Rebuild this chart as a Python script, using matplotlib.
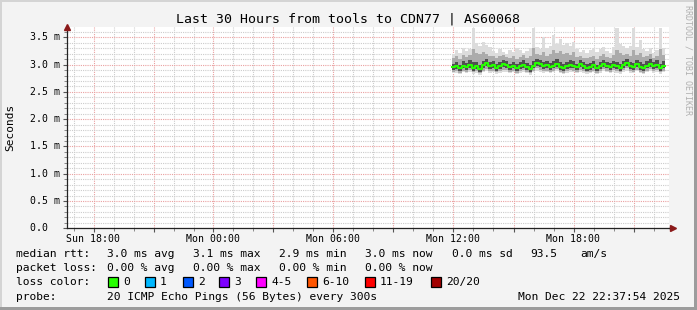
import numpy as np
import matplotlib.pyplot as plt
from matplotlib.patches import Rectangle
from matplotlib.ticker import MultipleLocator

# time axis in hours since Sun 00:00, samples every 10 minutes from Mon 11:55
t_start = 35 + 55 / 60
t_step = 1 / 6

median = [2.95, 2.97, 2.93, 2.98, 2.96, 3.00, 2.94, 2.97,
          2.92, 2.99, 3.03, 2.97, 2.99, 2.94, 2.97, 3.02,
          2.99, 2.95, 2.98, 2.93, 2.97, 3.00, 2.96, 2.92,
          2.98, 3.03, 3.01, 2.97, 2.99, 2.95, 2.98, 3.02,
          2.96, 2.93, 2.97, 3.00, 2.98, 2.95, 3.01, 2.97,
          2.94, 2.96, 2.99, 2.93, 2.97, 3.02, 2.98, 2.96,
          3.00, 2.97, 2.94, 2.99, 3.03, 2.97, 2.95, 3.01,
          2.96, 2.93, 2.98, 3.02, 2.97, 3.00, 2.94, 2.98]
inner_hi = [3.02, 3.05, 3.00, 3.06, 3.03, 3.08, 3.04, 3.05,
            3.00, 3.07, 3.10, 3.04, 3.07, 3.02, 3.05, 3.09,
            3.06, 3.02, 3.05, 3.01, 3.04, 3.08, 3.03, 3.00,
            3.06, 3.11, 3.08, 3.05, 3.07, 3.03, 3.06, 3.10,
            3.04, 3.01, 3.05, 3.08, 3.06, 3.02, 3.08, 3.04,
            3.02, 3.03, 3.06, 3.00, 3.05, 3.09, 3.05, 3.03,
            3.07, 3.05, 3.02, 3.07, 3.11, 3.05, 3.03, 3.08,
            3.04, 3.01, 3.06, 3.10, 3.05, 3.08, 3.02, 3.06]
inner_lo = [2.90, 2.92, 2.88, 2.93, 2.91, 2.94, 2.89, 2.92,
            2.87, 2.93, 2.97, 2.92, 2.93, 2.89, 2.92, 2.96,
            2.94, 2.90, 2.93, 2.88, 2.92, 2.94, 2.91, 2.87,
            2.93, 2.97, 2.95, 2.92, 2.93, 2.90, 2.93, 2.96,
            2.91, 2.88, 2.92, 2.94, 2.93, 2.90, 2.95, 2.92,
            2.89, 2.91, 2.93, 2.88, 2.92, 2.96, 2.93, 2.91,
            2.94, 2.92, 2.89, 2.94, 2.97, 2.92, 2.90, 2.95,
            2.91, 2.88, 2.93, 2.96, 2.92, 2.94, 2.89, 2.93]
upper = [3.12, 3.16, 3.10, 3.18, 3.14, 3.17, 3.28, 3.22,
         3.19, 3.24, 3.20, 3.15, 3.16, 3.12, 3.15, 3.18,
         3.14, 3.12, 3.15, 3.10, 3.14, 3.18, 3.13, 3.16,
         3.30, 3.20, 3.17, 3.24, 3.16, 3.19, 3.26, 3.22,
         3.25, 3.19, 3.21, 3.18, 3.24, 3.14, 3.15, 3.13,
         3.12, 3.14, 3.16, 3.11, 3.15, 3.19, 3.14, 3.12,
         3.17, 3.26, 3.21, 3.18, 3.19, 3.16, 3.27, 3.18,
         3.22, 3.14, 3.16, 3.19, 3.12, 3.15, 3.28, 3.17]
lower = [2.87, 2.88, 2.85, 2.89, 2.87, 2.90, 2.86, 2.88,
         2.84, 2.89, 2.92, 2.88, 2.89, 2.86, 2.88, 2.91,
         2.90, 2.87, 2.89, 2.85, 2.88, 2.90, 2.87, 2.84,
         2.89, 2.93, 2.91, 2.88, 2.89, 2.87, 2.89, 2.92,
         2.87, 2.85, 2.88, 2.90, 2.89, 2.87, 2.91, 2.88,
         2.86, 2.87, 2.89, 2.85, 2.88, 2.92, 2.89, 2.87,
         2.90, 2.88, 2.86, 2.90, 2.93, 2.88, 2.87, 2.91,
         2.87, 2.85, 2.89, 2.92, 2.88, 2.90, 2.86, 2.89]
bottom = [2.84, 2.85, 2.82, 2.86, 2.84, 2.86, 2.83, 2.85,
          2.81, 2.86, 2.88, 2.85, 2.86, 2.83, 2.85, 2.87,
          2.86, 2.84, 2.86, 2.82, 2.85, 2.87, 2.84, 2.81,
          2.86, 2.89, 2.87, 2.85, 2.86, 2.84, 2.86, 2.88,
          2.84, 2.82, 2.85, 2.87, 2.86, 2.84, 2.87, 2.85,
          2.83, 2.84, 2.86, 2.82, 2.85, 2.88, 2.86, 2.84,
          2.87, 2.85, 2.83, 2.87, 2.89, 2.85, 2.84, 2.88,
          2.84, 2.82, 2.86, 2.88, 2.85, 2.87, 2.83, 2.86]
top = [3.20, 3.26, 3.22, 3.30, 3.25, 3.28, 3.68, 3.40,
       3.34, 3.42, 3.36, 3.32, 3.25, 3.22, 3.28, 3.24,
       3.20, 3.26, 3.23, 3.30, 3.27, 3.22, 3.25, 3.30,
       3.68, 3.33, 3.28, 3.50, 3.30, 3.34, 3.55, 3.38,
       3.47, 3.36, 3.40, 3.34, 3.42, 3.28, 3.24, 3.27,
       3.22, 3.26, 3.30, 3.24, 3.28, 3.32, 3.25, 3.22,
       3.32, 3.68, 3.38, 3.34, 3.30, 3.34, 3.68, 3.32,
       3.45, 3.28, 3.25, 3.30, 3.22, 3.27, 3.68, 3.30]

tick_hours = [18, 24, 30, 36, 42]
tick_labels = ['Sun 18:00', 'Mon 00:00', 'Mon 06:00', 'Mon 12:00', 'Mon 18:00']

loss_labels = ['0', '1', '2', '3', '4-5', '6-10', '11-19', '20/20']
loss_colors = ['#26ff00', '#00b8ff', '#0059ff', '#7e00ff', '#ff00ff', '#ff5500', '#ff0000', '#a10000']

rtt_stats = ['3.0 ms avg', '3.1 ms max', '2.9 ms min', '3.0 ms now', '0.0 ms sd', '93.5', 'am/s']
loss_stats = ['0.00 % avg', '0.00 % max', '0.00 % min', '0.00 % now']

W, H = 697, 310
mono = 'DejaVu Sans Mono'
bg = '#f3f3f3'

fig = plt.figure(figsize=(W / 100, H / 100), dpi=100, facecolor=bg)
ax = fig.add_axes([67 / W, 81.7 / H, 602 / W, 201.3 / H])
ax.set_facecolor('white')
ax.set_xlim(16.675, 46.775)
ax.set_ylim(0, 3.69)


def ext(v):
    return list(v) + [v[-1]]


n = len(median)
x = t_start + np.arange(n + 1) * t_step
ax.fill_between(x, ext(bottom), ext(top), step='post', color='#dcdcdc', lw=0, zorder=2)
ax.fill_between(x, ext(lower), ext(upper), step='post', color='#ababab', lw=0, zorder=3)
ax.fill_between(x, ext(inner_lo), ext(inner_hi), step='post', color='#505050', lw=0, zorder=4)
ax.step(x, ext(median), where='post', color=loss_colors[0], lw=1.5, zorder=5)

# grid
ax.xaxis.set_major_locator(MultipleLocator(3))
ax.xaxis.set_minor_locator(MultipleLocator(1))
ax.yaxis.set_major_locator(MultipleLocator(0.5))
ax.yaxis.set_minor_locator(MultipleLocator(0.1))
ax.grid(which='minor', color='#cccccc', linestyle=(0, (1, 1)), lw=0.8, zorder=1)
ax.grid(which='major', color='#eaa0a0', linestyle=(0, (1, 1)), lw=0.8, zorder=1)
ax.set_axisbelow(True)

ax.set_xticklabels([])
ax.set_yticklabels([])
ax.tick_params(which='major', length=3, width=0.8, color='#555555')
ax.tick_params(which='minor', length=2, width=0.6, color='#777777')

for h, lab in zip(tick_hours, tick_labels):
    ax.text(h, -0.1, lab, ha='center', va='top', fontsize=7.1, family=mono)

for v in np.arange(0, 3.51, 0.5):
    ax.text(16.675 - 0.35, v, f'{v:.1f} m' if v > 0 else '0.0  ', ha='right', va='center',
            fontsize=7.1, family=mono)

for s in ['top', 'right']:
    ax.spines[s].set_visible(False)
for s in ['left', 'bottom']:
    ax.spines[s].set_color('#222222')
    ax.spines[s].set_linewidth(0.9)

# axis arrows
ax.plot([0], [1.0], transform=ax.transAxes, marker='^', ms=4, color='#8b1a1a', clip_on=False, zorder=6)
ax.plot([1.0, 1.006], [0, 0], transform=ax.transAxes, color='#222222', lw=0.9, clip_on=False)
ax.plot([1.006], [0], transform=ax.transAxes, marker='>', ms=4, color='#8b1a1a', clip_on=False, zorder=6)

# title and side labels
fig.text(0.4986, 1 - 19 / H, 'Last 30 Hours from tools to CDN77 | AS60068', ha='center', va='center',
         fontsize=9.5, family=mono)
fig.text(10 / W, 1 - 127 / H, 'Seconds', rotation=90, ha='center', va='center', fontsize=8, family=mono)
fig.text(688 / W, 1 - 60 / H, 'RRDTOOL / TOBI OETIKER', rotation=270, ha='center', va='center',
         fontsize=6, family=mono, color='#b0b0b0')

# legend text
fs = 8.1
row_y = [254, 268, 282, 297]
cols = [107, 193, 279, 365, 452, 530, 580]
fig.text(16 / W, 1 - row_y[0] / H, 'median rtt:', va='center', fontsize=fs, family=mono)
for cx, s in zip(cols, rtt_stats):
    fig.text(cx / W, 1 - row_y[0] / H, s, va='center', fontsize=fs, family=mono)
fig.text(16 / W, 1 - row_y[1] / H, 'packet loss:', va='center', fontsize=fs, family=mono)
for cx, s in zip(cols, loss_stats):
    fig.text(cx / W, 1 - row_y[1] / H, s, va='center', fontsize=fs, family=mono)
fig.text(16 / W, 1 - row_y[2] / H, 'loss color:', va='center', fontsize=fs, family=mono)
box_x = [108, 145, 183, 219, 256, 307, 365, 431]
for bx, lab, col in zip(box_x, loss_labels, loss_colors):
    fig.patches.append(Rectangle((bx / W, (H - row_y[2] - 5) / H), 10 / W, 10 / H,
                                 transform=fig.transFigure, facecolor=col, edgecolor='black', lw=0.9))
    fig.text((bx + 15) / W, 1 - row_y[2] / H, lab, va='center', fontsize=fs, family=mono)
fig.text(16 / W, 1 - row_y[3] / H, 'probe:', va='center', fontsize=fs, family=mono)
fig.text(107 / W, 1 - row_y[3] / H, '20 ICMP Echo Pings (56 Bytes) every 300s', va='center',
         fontsize=fs, family=mono)
fig.text(680 / W, 1 - row_y[3] / H, 'Mon Dec 22 22:37:54 2025', ha='right', va='center',
         fontsize=fs, family=mono)

# 3d frame
fig.patches.append(Rectangle((0, 1 - 2 / H), 1, 2 / H, transform=fig.transFigure, color='#d4d4d4', lw=0))
fig.patches.append(Rectangle((0, 0), 2 / W, 1, transform=fig.transFigure, color='#d4d4d4', lw=0))
fig.patches.append(Rectangle((0, 0), 1, 3 / H, transform=fig.transFigure, color='#9c9c9c', lw=0))
fig.patches.append(Rectangle((1 - 3 / W, 0), 3 / W, 1, transform=fig.transFigure, color='#9c9c9c', lw=0))

fig.savefig('out.png', dpi=100, facecolor=bg)
